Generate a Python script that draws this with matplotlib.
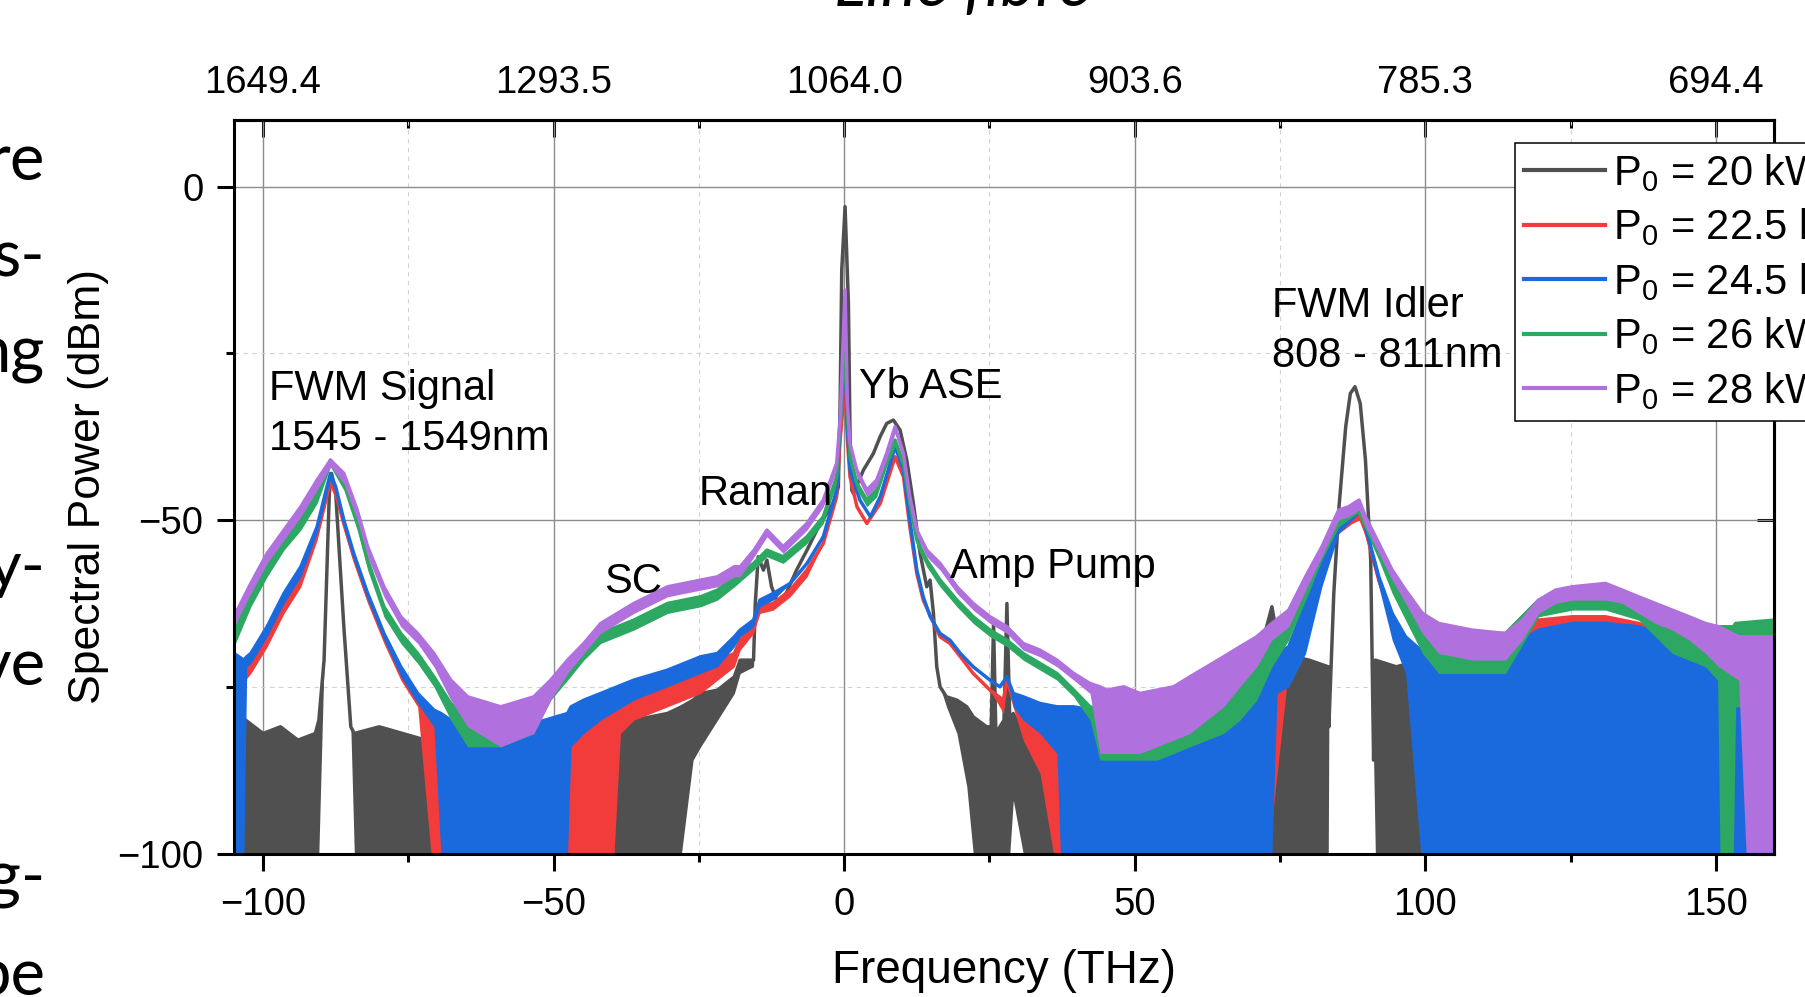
import matplotlib
matplotlib.use("Agg")
import matplotlib.pyplot as plt
from matplotlib.ticker import MultipleLocator

plt.rcParams["font.family"] = ["Liberation Sans", "DejaVu Sans"]
plt.rcParams["mathtext.fontset"] = "custom"
plt.rcParams["mathtext.rm"] = "Liberation Sans"
plt.rcParams["mathtext.it"] = "Liberation Sans:italic"

# ---- data (frequency offset in THz, power in dBm) ----
# each series: envelope (top) and the floor its noise reaches (low)
gray_f = [-105, -103, -100, -97, -94, -91, -90.4, -89.5, -88.6, -88.2, -87.5, -86.1, -84.9, -84.3,
          -80, -76, -72, -70.6, -70.3, -45, -44, -39.6, -36.2, -30.4, -28, -26, -24.7, -21.8, -18.9,
          -17.9, -15.6, -15.3, -14.8, -13.9, -13.3, -12.5, -11.6, -10.5, -8.2, -6.4, -4.7, -3.0, -1.6,
          -1.0, -0.7, -0.42, 0.15, 0.73, 1.01, 1.3, 1.59, 3.31, 5.03, 6.18, 7.32, 8.47, 9.62, 10.77,
          11.91, 13.06, 14.21, 14.78, 15.36, 15.93, 16.5, 17.6, 19.4, 21.1, 22.2, 24.5, 25.3, 25.7,
          26.1, 27.5, 28.0, 28.5, 29.1, 30.8, 33.7, 36.6, 45, 60, 70, 73.6, 75, 80, 83.3, 83.4, 84.25,
          85.1, 86.3, 87.1, 87.9, 88.8, 89.7, 90.6, 91.1, 91.4, 95, 99.2, 105, 120, 125, 135, 150, 160]
gray_top = [-84, -80, -82, -81, -83, -82, -80, -71, -46, -43, -46, -66, -81, -82,
            -81, -82, -83, -85, -100, -100, -86, -83, -80, -79, -78, -77, -76, -75.5, -73.5,
            -71, -71, -62.5, -55.5, -57.5, -56, -60, -62, -62, -57.5, -54.5, -51.5, -49, -47,
            -45, -32.5, -12.5, -3.0, -17.5, -37.5, -45.5, -46, -42.5, -40, -37.5, -35.5, -35, -36.5, -41,
            -47.5, -55, -60, -59, -64, -72, -75, -76.5, -77, -78, -79.5, -81, -81, -65.5,
            -82, -80, -62.5, -80, -79, -82, -83, -84, -85, -82, -75, -63, -70, -71, -72, -81, -61,
            -48.5, -36, -31, -30, -32.5, -41, -56, -86, -71, -72, -71, -78, -78, -75, -78, -80, -80]
gray_low = [-100, -100, -100, -100, -100, -100, -100, -71, -46, -43, -46, -66, -81, -100,
            -100, -100, -100, -100, -100, -100, -100, -100, -100, -100, -100, -86, -84, -80, -76,
            -73, -72, -62.5, -55.5, -57.5, -56, -60, -62, -62, -57.5, -54.5, -51.5, -49, -47,
            -45, -32.5, -12.5, -3.0, -17.5, -37.5, -45.5, -46, -42.5, -40, -37.5, -35.5, -35, -36.5, -41,
            -47.5, -55, -60, -59, -64, -72, -75, -78, -82, -90, -100, -100, -100, -100,
            -100, -100, -100, -100, -92, -100, -100, -100, -100, -100, -100, -100, -100, -100, -100, -81, -61,
            -48.5, -36, -31, -30, -32.5, -41, -56, -86, -100, -100, -100, -100, -100, -100, -100, -100, -100]

red_f = [-105, -104, -102.1, -99.3, -96.4, -93.5, -90.7, -89.0, -88.4, -87.5, -86.1, -84.4, -82.0, -79.2,
         -76.3, -73.4, -71.1, -68, -60, -53.4, -47.6, -44.8, -39.6, -38.5, -36.2, -30.4, -24.7, -18.9,
         -17.9, -15.6, -14.5, -12.2, -9.3, -6.4, -3.6, -1.3, -0.7, 0.15, 0.55, 1.0, 2.2, 3.9, 6.2, 8.76,
         10.2, 11.3, 12.5, 13.6, 16.5, 18.2, 20.0, 22.2, 25.1, 27.4, 28.0, 30.8, 33.7, 36.0, 45, 60, 70,
         73, 76.5, 79.4, 82.2, 85.1, 87.4, 88.6, 89.7, 92.0, 94.3, 96.6, 99.5, 105, 113.8, 119.5, 125.3,
         131.0, 136.7, 142.5, 150, 160]
red_top = [-72, -72, -71, -67, -62, -58, -52, -46, -44, -46, -50.5, -55.5, -61.5, -67.5,
           -72.5, -76.5, -79, -80, -81, -81, -79.5, -79, -78.5, -77.5, -76, -74, -72.5, -70,
           -68, -66, -63, -62.5, -60.5, -57.5, -53.5, -46.5, -38, -29.5, -38, -43.5, -48, -50.5, -47.5, -40.5,
           -43.5, -51, -58, -62, -67.5, -68.5, -70.5, -73, -75.5, -77, -74, -79.5, -81, -82, -80, -76, -72,
           -71, -70, -63.5, -57, -51, -49.5, -49, -51.5, -59, -64.5, -68, -70, -70, -69, -65, -64.5,
           -64.5, -65.5, -67.5, -68, -67]
red_low = [-100, -75, -73, -69, -64, -60, -53, -47, -45, -47, -51.5, -56.5, -62.5, -68.5,
           -74, -78, -100, -100, -100, -100, -100, -100, -100, -82, -80, -78, -76, -72,
           -69.5, -67, -64, -63.5, -61.5, -58.5, -53.5, -46.5, -38, -29.5, -38, -43.5, -48, -50.5, -47.5, -40.5,
           -43.5, -51, -58, -62, -67.5, -68.5, -70.5, -73, -75.5, -79, -75, -83, -88, -100, -100, -100, -100,
           -100, -72, -65, -58, -52, -50.5, -50, -52.5, -60, -66, -70, -100, -100, -100, -100, -100,
           -100, -100, -100, -100, -100]

blue_f = [-105, -103.3, -102.8, -102.1, -99.3, -96.4, -93.5, -90.7, -89.0, -88.4, -87.5, -86.1, -84.4,
          -82.0, -79.2, -76.3, -73.4, -70.6, -69.4, -67.7, -59.1, -53.4, -47.6, -47, -44.8, -41.9, -36.2,
          -30.4, -24.7, -21.8, -18.9, -17.9, -15.6, -14.5, -12.2, -9.3, -6.4, -3.6, -1.3, -0.7, 0.15, 0.55,
          1.0, 2.7, 4.5, 6.2, 8.76, 10.2, 11.3, 12.5, 13.6, 14.8, 16.5, 18.2, 20.0, 22.2, 25.1, 26.8, 28.0,
          29.1, 30.8, 33.7, 36.6, 37.2, 39.5, 42.3, 45.2, 48.1, 50.9, 53.8, 56.7, 59.5, 62.4, 65.3, 68.1,
          71.0, 73.6, 74.5, 76.5, 79.4, 82.2, 85.1, 87.4, 88.6, 89.7, 92.0, 94.3, 96.6, 99.2, 102.3, 108.1,
          113.8, 116.7, 119.5, 125.3, 131.0, 136.7, 142.5, 148.2, 153.9, 160]
blue_top = [-70, -71, -70.5, -70, -66, -61, -57, -51, -45, -43, -45, -50, -55,
            -61, -67, -72, -76, -78.5, -79, -80, -80.5, -80.5, -79, -78, -77, -76, -74,
            -72.5, -70.5, -70, -67.5, -66.5, -65, -62, -61, -59.5, -56.5, -52.5, -45.5, -35, -25.5, -36,
            -42.5, -47, -49.5, -46.5, -39, -42.5, -50, -57.5, -61.5, -64.5, -67, -68, -70, -72, -74, -75, -73.5,
            -76, -76.5, -77.5, -78, -78, -78, -78.5, -79, -79, -78, -77, -76.5, -75.5, -75, -74, -73,
            -72, -71, -70, -69, -62.5, -56, -50, -48.5, -47.5, -51, -58.5, -64, -67.5, -69.5, -70, -70,
            -69, -68, -66.5, -65.5, -65.5, -66, -67.5, -68, -66, -66]
blue_low = [-100, -100, -72, -71.5, -67.5, -62.5, -58.5, -52, -46, -44, -46, -51, -56,
            -62, -68, -73.5, -77.5, -81, -100, -100, -100, -100, -100, -84, -82, -80, -77,
            -75, -73, -72, -69, -67.5, -66, -63, -62, -59.5, -56.5, -52.5, -45.5, -35, -25.5, -36,
            -42.5, -47, -49.5, -46.5, -39, -42.5, -50, -57.5, -61.5, -64.5, -67, -68, -70, -72, -74, -75, -73.5,
            -78, -80, -82, -85, -100, -100, -100, -100, -100, -100, -100, -100, -100, -100, -100, -100,
            -100, -100, -76, -75, -70, -60, -52, -50, -49, -52, -60, -68, -73, -100, -100, -100,
            -100, -100, -100, -100, -100, -100, -100, -100, -100, -100]

green_f = [-105, -102.1, -99.3, -96.4, -93.5, -90.7, -88.4, -86.1, -83.8, -82.0, -79.2, -76.3, -73.4,
           -70.6, -67.7, -64.8, -59.1, -53.4, -50.5, -47.6, -44.8, -41.9, -36.2, -30.4, -24.7, -21.8, -18.9,
           -15.6, -13.3, -10.5, -6.4, -3.6, -1.3, -0.7, 0.15, 0.55, 1.0, 2.2, 3.88, 5.6, 7.3, 8.76, 10.2,
           11.3, 12.5, 14.2, 16.5, 19.4, 22.2, 25.1, 28.0, 30.8, 33.7, 36.6, 39.5, 42.3, 44.0, 45.2, 48.1,
           50.9, 53.8, 56.7, 59.5, 62.4, 65.3, 68.1, 71.0, 73.6, 76.5, 79.4, 82.2, 85.1, 88.3, 89.7, 92.0,
           94.3, 96.6, 99.5, 102.3, 108.1, 113.8, 119.5, 125.3, 131.0, 136.7, 142.5, 148.2, 150.3, 150.7,
           153, 153.4, 160]
green_top = [-67, -61, -57, -53, -50, -46, -41, -44, -50, -56, -63, -67, -70,
             -73.5, -77.5, -80, -79, -78, -74.5, -72, -69.5, -67, -65, -62.5, -61.5, -60.5, -58.5,
             -56.5, -54.5, -55.5, -52.5, -49.5, -43.5, -36, -24, -34, -40.5, -44.5, -47, -45.5, -41, -38, -41.5,
             -47.5, -53, -56, -59, -62, -64.5, -66.5, -68, -70, -71.5, -73, -75.5, -78, -78.5, -79, -79.5,
             -79.5, -79, -78, -77, -75, -73, -71.5, -69.5, -67.5, -65, -61, -55, -49.5, -47.5, -50, -54,
             -58.5, -61.5, -64, -66, -67, -67, -62, -61.5, -61.5, -63, -66, -67, -66.5, -66,
             -66, -65.5, -65]
green_low = [-69, -63, -58.5, -54.5, -51.5, -47.5, -42, -45.5, -51.5, -57.5, -64.5, -68.5, -71.5,
             -75, -80, -84, -84, -82, -77, -74, -71, -68.5, -66.5, -64, -63, -62, -60,
             -57.5, -55.5, -56.5, -53.5, -50.5, -44.5, -36, -24, -34, -41.5, -45.5, -48, -46.5, -42, -39, -42.5,
             -48.5, -54, -57, -60, -63, -65.5, -67.5, -69, -71, -72.5, -74, -76.5, -80, -86, -86, -86,
             -86, -86, -85, -84, -83, -82, -80, -77, -72, -68, -62, -56, -51, -49, -51.5, -56,
             -61, -65, -70, -73, -73, -73, -64.5, -63.5, -63.5, -65, -70, -72, -74, -100,
             -100, -78, -78]

purple_f = [-105, -102.1, -99.3, -96.4, -93.5, -90.7, -88.4, -86.1, -83.8, -82.0, -79.2, -76.3, -73.4,
            -70.6, -67.7, -64.8, -59.1, -53.4, -50.5, -47.6, -44.8, -41.9, -36.2, -30.4, -24.7, -21.8, -18.9,
            -17.9, -15.5, -13.3, -10.5, -6.4, -3.6, -1.3, -0.7, 0.15, 0.55, 1.0, 2.16, 3.88, 5.6, 7.3, 8.76,
            10.2, 11.3, 12.5, 14.2, 16.5, 19.4, 22.2, 25.1, 28.0, 30.8, 33.7, 36.6, 39.5, 42.3, 44.0, 45.2,
            48.1, 50.9, 53.8, 56.7, 59.5, 62.4, 65.3, 68.1, 71.0, 73.6, 76.5, 79.4, 82.2, 85.1, 86.8, 88.6,
            89.7, 92.0, 94.3, 96.6, 99.5, 102.3, 108.1, 113.8, 116.7, 119.5, 122.4, 125.3, 131.0, 133.9,
            136.7, 139.6, 142.5, 145.4, 148.2, 150.5, 153.9, 155.2, 160]
purple_top = [-64.5, -59.5, -55, -51.5, -48, -44, -41, -43, -48.5, -54, -60, -64.5, -67,
              -70, -74, -76.5, -78, -76.5, -74, -71, -68.5, -65.5, -62.5, -60, -59, -58.5, -57,
              -57, -54.5, -51.5, -54, -50.5, -47, -41.5, -35, -15.5, -32.5, -38.5, -42.5, -45.5, -44, -40, -36,
              -40, -46.5, -51.5, -54.5, -56.5, -60, -62.5, -64.5, -66, -68.5, -69.5, -71, -73, -74.5, -75, -75.5,
              -75, -76, -75.5, -75, -73.5, -72, -70.5, -69, -67.5, -65.5, -63.5, -58.5, -54, -48.5, -48, -47,
              -49.5, -53.5, -57.5, -60.5, -64, -65.5, -66.5, -67, -65, -62, -60.5, -60, -59.5, -60.5,
              -61.5, -62.5, -63.5, -64.5, -65.5, -66, -67.5, -67.5, -67.5]
purple_low = [-66, -61, -56.5, -53, -49.5, -45.5, -42, -44.5, -50, -55.5, -61.5, -66, -68.5,
              -72, -77, -81, -84, -82, -77, -73, -70, -67, -64, -61.5, -60.5, -60, -58.5,
              -58.5, -55.5, -52.5, -55, -51.5, -48, -42.5, -35, -15.5, -32.5, -39.5, -43.5, -46.5, -45, -41, -37,
              -41, -47.5, -52.5, -55.5, -57.5, -61, -63.5, -65.5, -67, -69.5, -70.5, -72, -74, -76, -85, -85,
              -85, -85, -84, -83, -82, -80, -78, -75, -72, -68, -66, -60.5, -55.5, -50, -49.5, -48.5,
              -51, -55, -59, -62.5, -67, -70, -71, -71, -68, -64, -62.5, -62, -62, -62.5,
              -64, -65.5, -66.5, -68, -70, -72, -74, -100, -100]

series_labels = [r"P$_0$ = 20 kW", r"P$_0$ = 22.5 kW", r"P$_0$ = 24.5 kW",
                 r"P$_0$ = 26 kW", r"P$_0$ = 28 kW"]
series_colors = ["#505050", "#f23c3c", "#1a6ade", "#2ca862", "#b070dd"]

freq_ticks = [-100, -50, 0, 50, 100, 150]
wavelength_labels = ["1649.4", "1293.5", "1064.0", "903.6", "785.3", "694.4"]
power_ticks = [-100, -50, 0]

slide_words = ["re", "s-", "ng", "y-", "ve", "g-", "pe"]
slide_y = [0.8195, 0.7222, 0.6259, 0.4112, 0.3129, 0.1003, 0.002]

# ---- figure ----
fig = plt.figure(figsize=(18.06, 9.97), dpi=100)
ax = fig.add_axes([0.12957, 0.14393, 0.85271, 0.73571])

series = [(gray_f, gray_top, gray_low), (red_f, red_top, red_low), (blue_f, blue_top, blue_low),
          (green_f, green_top, green_low), (purple_f, purple_top, purple_low)]
for i, ((f, top, low), col, lab) in enumerate(zip(series, series_colors, series_labels)):
    # each trace sits fully above the previous one, as in the original plot order
    ax.fill_between(f, low, top, color=col, lw=0, zorder=1 + 0.2 * i)
    ax.plot(f, top, color=col, lw=2.5, label=lab, zorder=1.1 + 0.2 * i)

ax.set_xlim(-105, 160)
ax.set_ylim(-100, 10)
ax.set_axisbelow(True)

ax.set_xticks(freq_ticks)
ax.set_yticks(power_ticks)
ax.xaxis.set_minor_locator(MultipleLocator(25))
ax.yaxis.set_minor_locator(MultipleLocator(25))
ax.tick_params(which="major", direction="out", length=12, width=2.2, labelsize=27.5, pad=12)
ax.tick_params(axis="y", which="major", pad=10)
ax.tick_params(which="minor", direction="out", length=6, width=2.2)
ax.grid(which="major", color="#8c8c8c", lw=1.0)
ax.grid(which="minor", color="#d2d2d2", lw=0.8, linestyle=(0, (4, 4)))
for s in ax.spines.values():
    s.set_linewidth(2.2)
    s.set_zorder(5)

top_ax = ax.secondary_xaxis("top")
top_ax.set_xticks(freq_ticks, labels=wavelength_labels)
top_ax.xaxis.set_minor_locator(MultipleLocator(25))
top_ax.tick_params(which="major", direction="in", length=12, width=2.2, labelsize=27.5, pad=14)
top_ax.tick_params(which="minor", direction="in", length=6, width=2.2)
top_ax.spines["top"].set_linewidth(2.2)

right_ax = ax.secondary_yaxis("right")
right_ax.set_yticks(power_ticks, labels=[])
right_ax.yaxis.set_minor_locator(MultipleLocator(25))
right_ax.tick_params(which="major", direction="in", length=12, width=2.2)
right_ax.tick_params(which="minor", direction="in", length=6, width=2.2)
right_ax.spines["right"].set_linewidth(2.2)

ax.set_xlabel("Frequency (THz)", fontsize=33, labelpad=18.5)
ax.set_ylabel("Spectral Power (dBm)", fontsize=32, labelpad=6)

# peak annotations
txt = dict(fontsize=30, ha="left", va="baseline", zorder=6)
ax.text(-99.0, -32.0, "FWM Signal", **txt)
ax.text(-99.0, -39.5, "1545 - 1549nm", **txt)
ax.text(-41.3, -61.0, "SC", **txt)
ax.text(-25.0, -47.7, "Raman", **txt)
ax.text(2.55, -31.7, "Yb ASE", **txt)
ax.text(18.2, -58.7, "Amp Pump", **txt)
ax.text(73.6, -19.6, "FWM Idler", **txt)
ax.text(73.6, -27.0, "808 - 811nm", **txt)

leg = ax.legend(loc="upper left", bbox_to_anchor=(0.8389, 0.8566), bbox_transform=fig.transFigure,
                fontsize=30, frameon=True, fancybox=False, framealpha=1, edgecolor="black",
                borderpad=0.22, borderaxespad=0, handlelength=1.95, handletextpad=0.18,
                labelspacing=0.3)
leg.get_frame().set_linewidth(1.1)
leg.set_zorder(10)
for ln in leg.get_lines():
    ln.set_linewidth(3)

# cut-off slide content around the picture
fig.text(0.533, 0.994, "Line fibre", fontsize=48, style="italic", ha="center", va="baseline",
         family=["Lato", "DejaVu Sans"])
for w, y in zip(slide_words, slide_y):
    fig.text(0.0249, y, w, fontsize=47, ha="right", va="baseline", family=["Lato", "DejaVu Sans"])

fig.savefig("out.png", dpi=100, facecolor="white")
